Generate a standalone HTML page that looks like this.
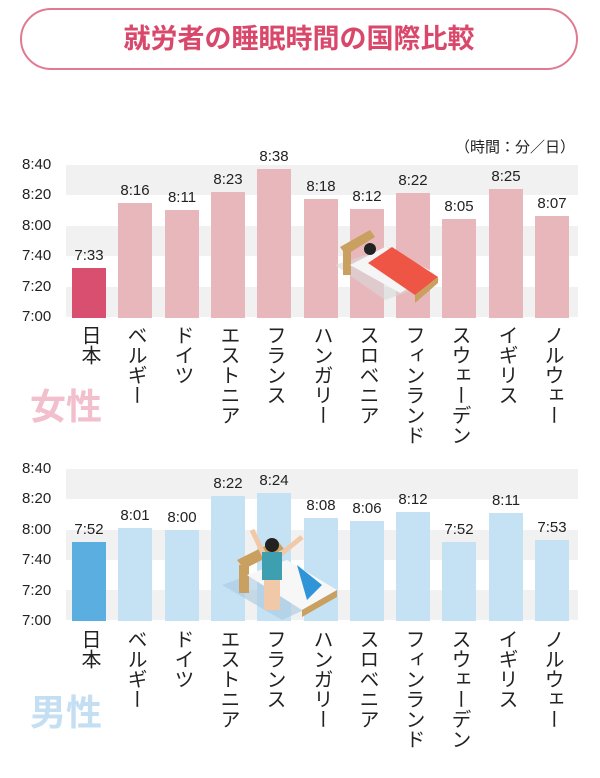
<!DOCTYPE html><html><head><meta charset="utf-8"><style>
body{margin:0;width:600px;height:778px;background:#fff;position:relative;overflow:hidden;font-family:"Liberation Sans","Noto Sans CJK JP",sans-serif;color:#222}
.a{position:absolute}
.title{left:20px;top:8px;width:558px;height:62px;border:2px solid #e07a90;border-radius:32px;box-sizing:border-box;text-align:center;line-height:58px;font-size:27px;font-weight:bold;color:#d9486b}
.band{position:absolute;left:66px;width:512px;height:30.4px;background:#f1f1f1}
.yl{position:absolute;left:22px;font-size:15px;line-height:16px}
.col{position:absolute;width:46px;display:flex;flex-direction:column;align-items:center}
.col span{font-size:15px;margin-bottom:4px;line-height:16px}
.col div{width:34px}
.w div{background:#e8b7bb}.m div{background:#c5e2f5}
.cat{position:absolute;writing-mode:vertical-rl;font-size:20px;width:46px;line-height:46px;letter-spacing:0px}
.big{position:absolute;left:30px;font-size:36px;font-weight:bold}
</style></head><body>
<div class="a title">就労者の睡眠時間の国際比較</div>
<div class="a" style="left:455px;top:136px;font-size:15px">（時間：分／日）</div>

<div class="band" style="top:165px"></div><div class="band" style="top:226px"></div><div class="band" style="top:287px"></div>
<div class="yl" style="top:157px">8:40</div><div class="yl" style="top:187px">8:20</div><div class="yl" style="top:218px">8:00</div><div class="yl" style="top:248px">7:40</div><div class="yl" style="top:279px">7:20</div><div class="yl" style="top:309px">7:00</div>

<div class="col w" style="left:66px;bottom:460px"><span>7:33</span><div style="height:50px;background:#d94f70"></div></div>
<div class="col w" style="left:112px;bottom:460px"><span>8:16</span><div style="height:115px"></div></div>
<div class="col w" style="left:159px;bottom:460px"><span>8:11</span><div style="height:108px"></div></div>
<div class="col w" style="left:205px;bottom:460px"><span>8:23</span><div style="height:126px"></div></div>
<div class="col w" style="left:251px;bottom:460px"><span>8:38</span><div style="height:149px"></div></div>
<div class="col w" style="left:298px;bottom:460px"><span>8:18</span><div style="height:119px"></div></div>
<div class="col w" style="left:344px;bottom:460px"><span>8:12</span><div style="height:109px"></div></div>
<div class="col w" style="left:390px;bottom:460px"><span>8:22</span><div style="height:125px"></div></div>
<div class="col w" style="left:436px;bottom:460px"><span>8:05</span><div style="height:99px"></div></div>
<div class="col w" style="left:483px;bottom:460px"><span>8:25</span><div style="height:129px"></div></div>
<div class="col w" style="left:529px;bottom:460px"><span>8:07</span><div style="height:102px"></div></div>

<svg class="a" style="left:330px;top:225px" width="115" height="85">
<polygon points="5,40 55,75 110,55 60,22" fill="#d9d9d9" opacity=".6"/>
<polygon points="10,22 40,5 45,12 16,30" fill="#c9a060"/>
<rect x="13" y="25" width="8" height="25" fill="#c9a060"/>
<polygon points="20,40 70,68 105,48 55,22" fill="#f5f5f5"/>
<circle cx="40" cy="24" r="6" fill="#222"/>
<polygon points="38,38 85,70 108,52 62,22" fill="#ee5544"/>
<polygon points="85,70 108,52 108,58 85,78" fill="#c9a060"/>
</svg>

<div class="cat" style="left:66px;top:325px">日本</div>
<div class="cat" style="left:112px;top:325px">ベルギー</div>
<div class="cat" style="left:159px;top:325px">ドイツ</div>
<div class="cat" style="left:205px;top:325px">エストニア</div>
<div class="cat" style="left:251px;top:325px">フランス</div>
<div class="cat" style="left:298px;top:325px">ハンガリー</div>
<div class="cat" style="left:344px;top:325px">スロベニア</div>
<div class="cat" style="left:390px;top:325px">フィンランド</div>
<div class="cat" style="left:436px;top:325px">スウェーデン</div>
<div class="cat" style="left:483px;top:325px">イギリス</div>
<div class="cat" style="left:529px;top:325px">ノルウェー</div>
<div class="big" style="top:378px;color:#f2bfcc">女性</div>

<div class="band" style="top:469px"></div><div class="band" style="top:530px"></div><div class="band" style="top:590px"></div>
<div class="yl" style="top:461px">8:40</div><div class="yl" style="top:491px">8:20</div><div class="yl" style="top:522px">8:00</div><div class="yl" style="top:552px">7:40</div><div class="yl" style="top:583px">7:20</div><div class="yl" style="top:613px">7:00</div>

<div class="col m" style="left:66px;bottom:157px"><span>7:52</span><div style="height:79px;background:#5aafe0"></div></div>
<div class="col m" style="left:112px;bottom:157px"><span>8:01</span><div style="height:93px"></div></div>
<div class="col m" style="left:159px;bottom:157px"><span>8:00</span><div style="height:91px"></div></div>
<div class="col m" style="left:205px;bottom:157px"><span>8:22</span><div style="height:125px"></div></div>
<div class="col m" style="left:251px;bottom:157px"><span>8:24</span><div style="height:128px"></div></div>
<div class="col m" style="left:298px;bottom:157px"><span>8:08</span><div style="height:103px"></div></div>
<div class="col m" style="left:344px;bottom:157px"><span>8:06</span><div style="height:100px"></div></div>
<div class="col m" style="left:390px;bottom:157px"><span>8:12</span><div style="height:109px"></div></div>
<div class="col m" style="left:436px;bottom:157px"><span>7:52</span><div style="height:79px"></div></div>
<div class="col m" style="left:483px;bottom:157px"><span>8:11</span><div style="height:108px"></div></div>
<div class="col m" style="left:529px;bottom:157px"><span>7:53</span><div style="height:81px"></div></div>

<svg class="a" style="left:212px;top:525px" width="125" height="100">
<polygon points="10,60 70,95 125,70 65,40" fill="#a8c8e0" opacity=".6"/>
<polygon points="25,35 65,15 72,24 32,44" fill="#c9a060"/>
<rect x="27" y="40" width="10" height="28" fill="#c9a060"/>
<polygon points="35,50 90,85 125,65 75,35" fill="#f7f7f7"/>
<polygon points="85,40 110,60 95,75" fill="#2f95d8"/>
<polygon points="90,85 125,65 125,72 90,92" fill="#c9a060"/>
<line x1="52" y1="30" x2="40" y2="5" stroke="#f2c9a8" stroke-width="5"/>
<line x1="68" y1="30" x2="90" y2="12" stroke="#f2c9a8" stroke-width="5"/>
<circle cx="60" cy="20" r="7" fill="#222"/>
<rect x="50" y="27" width="20" height="28" fill="#3d9fb0"/>
<rect x="52" y="55" width="16" height="30" fill="#f2c9a8"/>
</svg>

<div class="cat" style="left:66px;top:629px">日本</div>
<div class="cat" style="left:112px;top:629px">ベルギー</div>
<div class="cat" style="left:159px;top:629px">ドイツ</div>
<div class="cat" style="left:205px;top:629px">エストニア</div>
<div class="cat" style="left:251px;top:629px">フランス</div>
<div class="cat" style="left:298px;top:629px">ハンガリー</div>
<div class="cat" style="left:344px;top:629px">スロベニア</div>
<div class="cat" style="left:390px;top:629px">フィンランド</div>
<div class="cat" style="left:436px;top:629px">スウェーデン</div>
<div class="cat" style="left:483px;top:629px">イギリス</div>
<div class="cat" style="left:529px;top:629px">ノルウェー</div>
<div class="big" style="top:684px;color:#c5dff2">男性</div>
</body></html>
